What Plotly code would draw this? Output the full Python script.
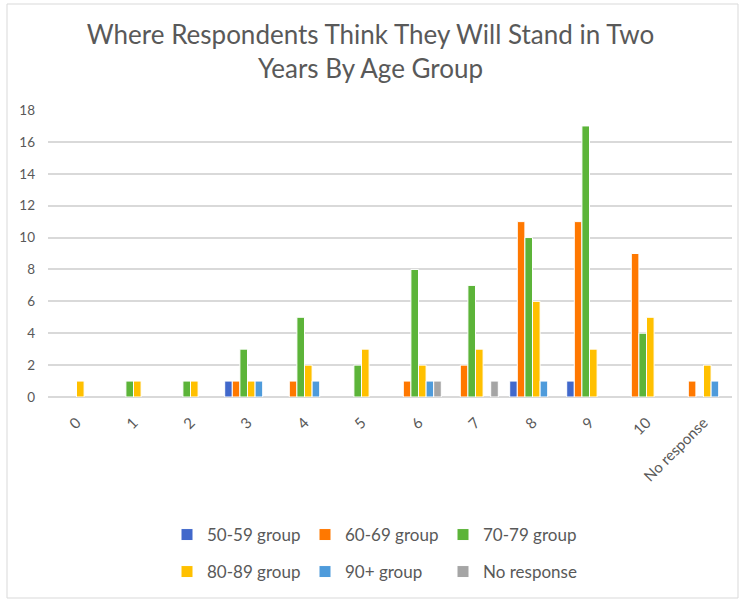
import plotly.graph_objects as go

categories = ["0", "1", "2", "3", "4", "5", "6", "7", "8", "9", "10", "No response"]
series_names = ["50-59 group", "60-69 group", "70-79 group", "80-89 group", "90+ group", "No response"]
g50 = [None, None, None, 1, None, None, None, None, 1, 1, None, None]
g60 = [None, None, None, 1, 1, None, 1, 2, 11, 11, 9, 1]
g70 = [None, 1, 1, 3, 5, 2, 8, 7, 10, 17, 4, None]
g80 = [1, 1, 1, 1, 2, 3, 2, 3, 6, 3, 5, 2]
g90 = [None, None, None, 1, 1, None, 1, None, 1, None, None, 1]
gnr = [None, None, None, None, None, None, 1, 1, None, None, None, None]
y_ticks = [0, 2, 4, 6, 8, 10, 12, 14, 16, 18]

series_values = [g50, g60, g70, g80, g90, gnr]
colors = ["#4168CB", "#FF7800", "#5CB439", "#FFC000", "#4E9BDB", "#A5A5A5"]
legend_ids = ["legend", "legend", "legend", "legend2", "legend2", "legend2"]

FONT = "Lato, 'Open Sans', sans-serif"
TXT = "#595959"

fig = go.Figure()
for name, vals, col, lg in zip(series_names, series_values, colors, legend_ids):
    fig.add_trace(go.Bar(
        x=categories, y=vals, name=name, legend=lg,
        marker=dict(color=col, line=dict(color="white", width=1)),
    ))

H = 287.0
W = 684.0
fig.update_layout(
    width=741, height=599,
    paper_bgcolor="white", plot_bgcolor="white",
    font=dict(family=FONT, color=TXT, size=13),
    title=dict(
        text="Where Respondents Think They Will Stand in Two<br>Years By Age Group",
        x=0.5, xanchor="center", y=0.927, yanchor="top",
        font=dict(size=26, color=TXT, family=FONT),
    ),
    margin=dict(l=48, r=9, t=110, b=202, autoexpand=False),
    barmode="group", bargap=0.2, bargroupgap=0.0,
    xaxis=dict(
        type="category", tickangle=-45, showgrid=False, showline=False,
        ticks="", tickfont=dict(size=15, color=TXT), ticklabelstandoff=13,
    ),
    yaxis=dict(
        range=[0, 18], tickvals=y_ticks, showgrid=True, gridcolor="#D9D9D9",
        gridwidth=1.5, zeroline=True, zerolinecolor="#D9D9D9", zerolinewidth=1.5,
        showline=False, ticks="", tickfont=dict(size=13.5, color=TXT),
        ticklabelstandoff=12,
    ),
    legend=dict(
        orientation="h", x=(167 - 48) / W, xanchor="left", y=-(535 - 397) / H, yanchor="middle",
        font=dict(size=17, color=TXT), entrywidth=93, entrywidthmode="pixels",
        itemwidth=30, bgcolor="rgba(0,0,0,0)",
    ),
    legend2=dict(
        orientation="h", x=(167 - 48) / W, xanchor="left", y=-(572 - 397) / H, yanchor="middle",
        font=dict(size=17, color=TXT), entrywidth=93, entrywidthmode="pixels",
        itemwidth=30, bgcolor="rgba(0,0,0,0)",
    ),
    shapes=[dict(
        type="rect", xref="paper", yref="paper",
        x0=-41 / W, x1=(738 - 48) / W,
        y0=-(598 - 397) / H, y1=(397 - 4) / H,
        line=dict(color="#D9D9D9", width=1), fillcolor="rgba(0,0,0,0)",
        layer="below",
    )],
)

fig.write_html("out.html", config={"displayModeBar": False},
               post_script="document.body.style.margin='0';")
